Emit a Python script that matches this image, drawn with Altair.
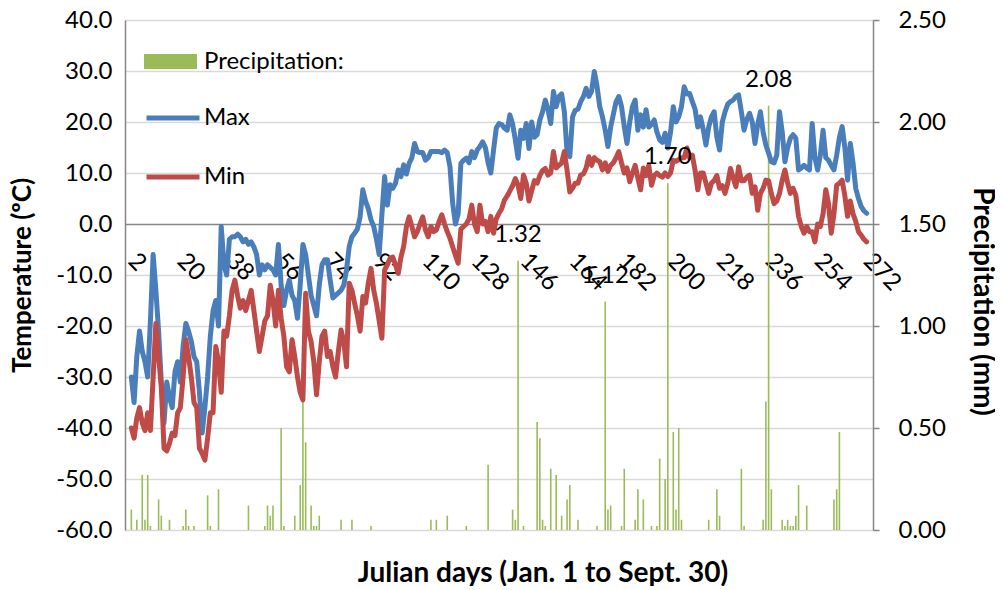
import altair as alt
import pandas as pd

FONT = "Lato"

# Daily maximum temperature (deg C), Julian days 2..272
tmax = [
    -30, -35, -26, -21, -25, -27, -30, -19, -6, -13,
    -21, -31, -39, -31, -34, -36, -29, -27, -31, -24,
    -19.5, -21, -23, -26, -27, -33, -41, -36, -30, -22,
    -17, -15, -20, -0.5, -8, -10, -3, -2.5, -2.5, -2,
    -2.5, -3.5, -3, -4, -3.5, -4.5, -6, -10, -8, -9,
    -8, -8.5, -9, -10, -4, -12, -16, -13, -11, -14,
    -15, -18.5, -12, -4, -6, -10, -14, -16, -18, -12,
    -8, -7, -7, -11, -14.5, -14, -13.5, -13, -12, -9,
    -4.4, -2.5, -1.8, -1, 1.4, 6.7, 4.5, 3, 0.8, -0.5,
    -3, -6, 1.8, 9.3, 3.7, 7.7, 7, 8, 10.6, 9.3,
    11.6, 9.8, 11.9, 13, 15.8, 14.2, 14, 14, 12.5, 13,
    14.2, 14.2, 14.2, 14.2, 14, 14.5, 14, 11.2, 4, 0,
    2, 11.9, 12.5, 12.9, 12, 14.2, 13, 14.5, 15.2, 16.1,
    15, 12, 10, 14.5, 18.8, 19.7, 19.5, 18.8, 18.4, 21.4,
    19.6, 16.5, 12.9, 18.4, 16.8, 19.7, 14.8, 20, 17, 17.5,
    20.4, 22, 24.3, 22.4, 19.7, 26, 23, 25, 25.5, 22,
    14, 13.2, 21, 22.3, 22.5, 24, 25, 26.6, 25, 26,
    29.9, 27, 23, 21, 18.4, 15.2, 19, 21.5, 24, 25,
    23, 19.1, 15.8, 20, 23, 24.3, 18.4, 21.4, 19, 22.4,
    19, 19.5, 20.4, 18, 16.5, 16, 17.8, 14.9, 18, 23,
    20, 21, 23, 26.9, 25.5, 25.6, 24, 22.5, 19, 21,
    18.5, 15.5, 19, 21, 22, 17, 14.5, 20, 22, 23.5,
    24, 24.3, 25, 25.3, 22, 18.4, 20.5, 21.7, 20, 15.8,
    19.5, 22, 18, 15.5, 13.9, 12.2, 12, 13.5, 22, 18,
    12.2, 15, 16.8, 17.5, 16.8, 10.6, 11, 11.5, 11, 10.6,
    19.7, 13, 10.6, 13.5, 18.4, 13, 12.5, 11.5, 10.6, 13.5,
    17, 19.1, 15, 8.6, 15.8, 12, 7, 5, 3.4, 2.6,
    2.1,
]

# Daily minimum temperature (deg C), Julian days 2..272
tmin = [
    -40, -42, -38, -36, -39, -40.5, -37, -40.5, -30, -19.5,
    -26, -32, -44, -44.5, -43, -41, -41.5, -37, -36, -30,
    -22.7, -26, -30, -35, -36, -44, -45, -46.3, -42, -37,
    -37, -24, -27, -33, -21, -22, -18, -13, -11, -14,
    -16.5, -15, -17, -15, -13, -17, -21, -25, -22, -19,
    -18, -12, -15, -20, -13, -18.5, -22, -28, -29, -22.7,
    -26, -30, -33, -34.5, -13.6, -21, -23, -27, -33.5, -27,
    -22, -21, -26, -25, -28, -30, -25, -20.8, -23, -28,
    -11.6, -13, -15.6, -18, -21, -14.2, -15.5, -11.6, -8.7, -13,
    -15.6, -19, -22.4, -9, -8, -6.7, -6.5, -8, -9.7, -6.5,
    -4.4, -0.5, 1.4, -0.5, -2.5, -1.5, 0, 1.4, -1.2, -2.5,
    -0.5, -1.5, -1.2, 0.5, 1.8, 0, -1.5, -2.8, -4.5, -6.1,
    -7.7, -1, -0.5, 0, 1, 3.7, 0, -1.5, 3.7, 0,
    0.5, -1.5, 1.5, -1.8, 1, 2.1, 3, 4.7, 5.5, 6.5,
    7.5, 8.9, 7.6, 5, 9.6, 8, 4.5, 6.5, 8.5, 8,
    9.5, 10.5, 10.9, 9.6, 10, 14.2, 11, 11.5, 12, 14.2,
    10.5, 6.3, 7, 8, 8, 9.6, 9.8, 11, 13.2, 11.5,
    13, 12.5, 12.2, 10.6, 12, 10.3, 11.5, 12, 13, 14.2,
    12, 10, 11, 8.3, 10, 11.5, 9, 6.7, 11, 9.5,
    11.5, 7.6, 9.5, 10, 9.5, 9.2, 10, 9.3, 10, 12.5,
    12.3, 12.6, 13, 13, 14.9, 13, 13.5, 10.5, 6.7, 10,
    10, 8, 6, 8, 8.5, 9.5, 7, 7.5, 6, 8,
    10.9, 9, 7.3, 11.2, 8.5, 8.5, 9.2, 9.6, 6, 7.3,
    2.7, 6, 7, 8.6, 8.5, 6, 4, 4.5, 6, 8.6,
    10.6, 8, 6, 7, 5.6, 1.5, -0.5, -1.8, -0.5, -1.5,
    -1.5, -3.5, 0, -0.5, 2, 6.7, 4, -1.8, 2, 7.6,
    8, 8.6, 5.5, 1.5, 4.5, 2, 0.5, -1.5, -2.2, -3,
    -3.5,
]

# Daily precipitation (mm): day and amount (days with no rain omitted)
precip_days = [
    2, 4, 6, 7, 8, 9, 12, 13, 16, 21, 22, 23, 25, 30, 31, 34, 45, 51, 52, 53,
    54, 57, 58, 62, 64, 65, 66, 68, 69, 70, 71, 79, 83, 90, 112, 114, 118, 125, 133, 142,
    143, 144, 146, 151, 152, 153, 154, 156, 158, 160, 162, 163, 166, 173, 176, 177, 178, 182, 183, 187,
    188, 190, 193, 195, 196, 198, 199, 201, 202, 203, 204, 214, 217, 218, 226, 227, 234, 235, 236, 237,
    241, 242, 243, 244, 245, 246, 247, 250, 260, 261, 262,
]
precip_vals = [
    0.10, 0.05, 0.27, 0.05, 0.27, 0.02, 0.15, 0.07, 0.05, 0.02, 0.10, 0.02, 0.02, 0.17, 0.02, 0.20, 0.12, 0.02, 0.12, 0.07,
    0.12, 0.50, 0.02, 0.07, 0.22, 0.64, 0.43, 0.12, 0.02, 0.02, 0.07, 0.05, 0.05, 0.02, 0.05, 0.05, 0.07, 0.02, 0.32, 0.10,
    0.05, 1.32, 0.02, 0.53, 0.45, 0.05, 0.02, 0.30, 0.27, 0.07, 0.15, 0.22, 0.05, 0.02, 1.12, 0.10, 0.12, 0.02, 0.30, 0.05,
    0.20, 0.15, 0.02, 0.02, 0.35, 0.25, 1.70, 0.48, 0.10, 0.50, 0.05, 0.05, 0.20, 0.07, 0.30, 0.02, 0.05, 0.63, 2.08, 0.20,
    0.05, 0.02, 0.05, 0.02, 0.02, 0.07, 0.22, 0.12, 0.15, 0.20, 0.48,
]
labelled_days = [144, 176, 199, 236]

x_ticks = list(range(2, 273, 18))
temp_ticks = list(range(-60, 41, 10))
precip_ticks = [0, 0.5, 1.0, 1.5, 2.0, 2.5]

days = list(range(2, 2 + len(tmax)))
temp_df = pd.DataFrame({
    "day": days + days,
    "temp": tmax + tmin,
    "series": ["Max"] * len(tmax) + ["Min"] * len(tmin),
})
precip_df = pd.DataFrame({"day": precip_days, "precip": precip_vals})
precip_df["kind"] = "Precipitation:"
label_df = precip_df[precip_df["day"].isin(labelled_days)].copy()

GRAY = "#868686"
LIGHT = "#D9D9D9"

x_enc = alt.X(
    "day:Q",
    scale=alt.Scale(domain=[1.5, 272.5], nice=False, zero=False),
    axis=alt.Axis(
        values=x_ticks, title=None, offset=-306, grid=False, ticks=False,
        labelAngle=45, labelAlign="left", labelBaseline="middle", labelPadding=33,
        labelFont=FONT, labelFontSize=24, labelColor="black",
        labelOverlap=False, labelFlush=False, labelBound=False,
        domain=False,
    ),
)

precip_scale = alt.Scale(domain=[0, 2.5], nice=False, zero=True)

bars = alt.Chart(precip_df).mark_bar(size=1.6, orient="vertical").encode(
    x=x_enc,
    y=alt.Y(
        "precip:Q", scale=precip_scale,
        axis=alt.Axis(
            orient="right", values=precip_ticks, format=".2f", grid=False,
            ticks=True, tickSize=6, tickColor=GRAY, tickWidth=1.5,
            domainColor=GRAY, domainWidth=1.5, labelPadding=19,
            labelFont=FONT, labelFontSize=24, labelColor="black",
            title="Precipitation (mm)", titleFont=FONT, titleFontSize=28,
            titleFontWeight="bold", titleColor="black", titleAngle=90,
            titleX=108, titleY=281, titleAlign="center", titleBaseline="middle",
        ),
    ),
    fill=alt.Fill(
        "kind:N",
        scale=alt.Scale(domain=["Precipitation:"], range=["#9BBB59"]),
        legend=alt.Legend(
            orient="none", legendX=19, legendY=15, title=None, padding=0,
            symbolType="M-1,-0.28L1,-0.28L1,0.28L-1,0.28Z", symbolSize=2809,
            symbolStrokeWidth=0, labelFont=FONT, labelFontSize=24,
            labelColor="black", labelOffset=7,
        ),
    ),
)

lines = alt.Chart(temp_df).mark_line(strokeWidth=5, strokeJoin="round", strokeCap="round").encode(
    x=x_enc,
    y=alt.Y(
        "temp:Q",
        scale=alt.Scale(domain=[-60, 40], nice=False, zero=False),
        axis=alt.Axis(
            orient="left", values=temp_ticks,
            labelExpr="replace(format(datum.value, '.1f'), '\u2212', '-')",
            grid=True,
            gridColor={"condition": {"test": "datum.value === 0", "value": GRAY}, "value": LIGHT},
            gridWidth=1.5, ticks=False,
            domainColor=GRAY, domainWidth=1.5, labelPadding=13,
            labelFont=FONT, labelFontSize=24, labelColor="black",
            title="Temperature (ºC)", titleFont=FONT, titleFontSize=26,
            titleFontWeight="bold", titleColor="black", titleAngle=-90,
            titleX=-103, titleY=255, titleAlign="center", titleBaseline="middle",
        ),
    ),
    stroke=alt.Stroke(
        "series:N",
        scale=alt.Scale(domain=["Max", "Min"], range=["#4A7EBB", "#BE4B48"]),
        legend=alt.Legend(
            orient="none", legendX=19, legendY=69, title=None, padding=0,
            symbolType="stroke", symbolSize=2809, symbolStrokeWidth=5,
            labelFont=FONT, labelFontSize=24, labelColor="black",
            labelOffset=2, rowPadding=18,
        ),
    ),
    order="day:Q",
)

labels = alt.Chart(label_df).mark_text(
    font=FONT, fontSize=24, color="black", dy=-26, baseline="middle", align="center"
).encode(
    x=x_enc,
    y=alt.Y("precip:Q", scale=precip_scale, axis=None),
    text=alt.Text("precip:Q", format=".2f"),
)

chart = alt.layer(bars, lines, labels).resolve_scale(
    y="independent"
).properties(
    width=748,
    height=510,
    padding={"left": 117, "top": 12, "right": 122, "bottom": 56},
    autosize=alt.AutoSizeParams(type="none"),
    title=alt.TitleParams(
        text="Julian days (Jan. 1 to Sept. 30)", orient="bottom", anchor="middle",
        frame="group", offset=32, dx=44, font=FONT, fontSize=28,
        fontWeight="bold", color="black", baseline="middle",
    ),
).configure_view(stroke=None).configure(background="white")

chart.save("out.html", embed_options={"renderer": "svg", "actions": False})
